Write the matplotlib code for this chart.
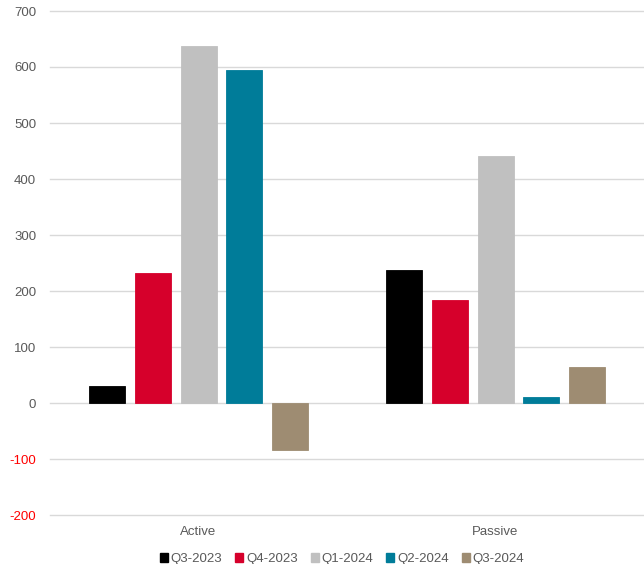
import matplotlib
matplotlib.use("Agg")
import matplotlib.pyplot as plt
import numpy as np
from matplotlib.patches import Patch

categories = ["Active", "Passive"]
series_names = ["Q3-2023", "Q4-2023", "Q1-2024", "Q2-2024", "Q3-2024"]
q3_2023 = [30, 237]
q4_2023 = [232, 184]
q1_2024 = [638, 441]
q2_2024 = [595, 11]
q3_2024 = [-84, 64]
colors = ["#000000", "#D6002B", "#C0C0C0", "#007C99", "#9E8C72"]
yticks = [-200, -100, 0, 100, 200, 300, 400, 500, 600, 700]

series = [q3_2023, q4_2023, q1_2024, q2_2024, q3_2024]

plt.rcParams['font.family'] = ['Liberation Sans', 'DejaVu Sans']
fig = plt.figure(figsize=(6.44, 5.64), dpi=100)
ax = fig.add_axes([50/644, 1-515/564, 594/644, 504/564])

x = np.arange(len(categories))
bw = 36/297
step = 45.8/297
for i, (vals, c) in enumerate(zip(series, colors)):
    ax.bar(x + (i - 2) * step, vals, width=bw, color=c, zorder=3,
           edgecolor=c, linewidth=0.6)

ax.set_xlim(-0.5, 1.5)
ax.set_ylim(-200, 700)
ax.set_yticks(yticks)
ax.set_yticklabels([str(v) for v in yticks])
for lbl, v in zip(ax.get_yticklabels(), yticks):
    lbl.set_color("#FF0000" if v < 0 else "#595959")
ax.tick_params(axis='y', length=0, labelsize=9.5, pad=10)
ax.set_xticks(x)
ax.set_xticklabels(categories, color="#595959", fontsize=9.5)
ax.tick_params(axis='x', length=0, pad=8)
ax.grid(axis='y', color="#D9D9D9", linewidth=1, zorder=0)
for gl in ax.get_ygridlines():
    gl.set_clip_on(False)
for s in ax.spines.values():
    s.set_visible(False)

handles = [Patch(color=c, label=n) for c, n in zip(colors, series_names)]
leg = fig.legend(handles=handles, loc='center', bbox_to_anchor=(342/644, 1-559/564),
                 ncol=5, frameon=False, fontsize=9.5, handlelength=0.6, handleheight=0.6,
                 handletextpad=0.2, columnspacing=1.0)
for t in leg.get_texts():
    t.set_color("#595959")

fig.savefig("out.png", dpi=100)
